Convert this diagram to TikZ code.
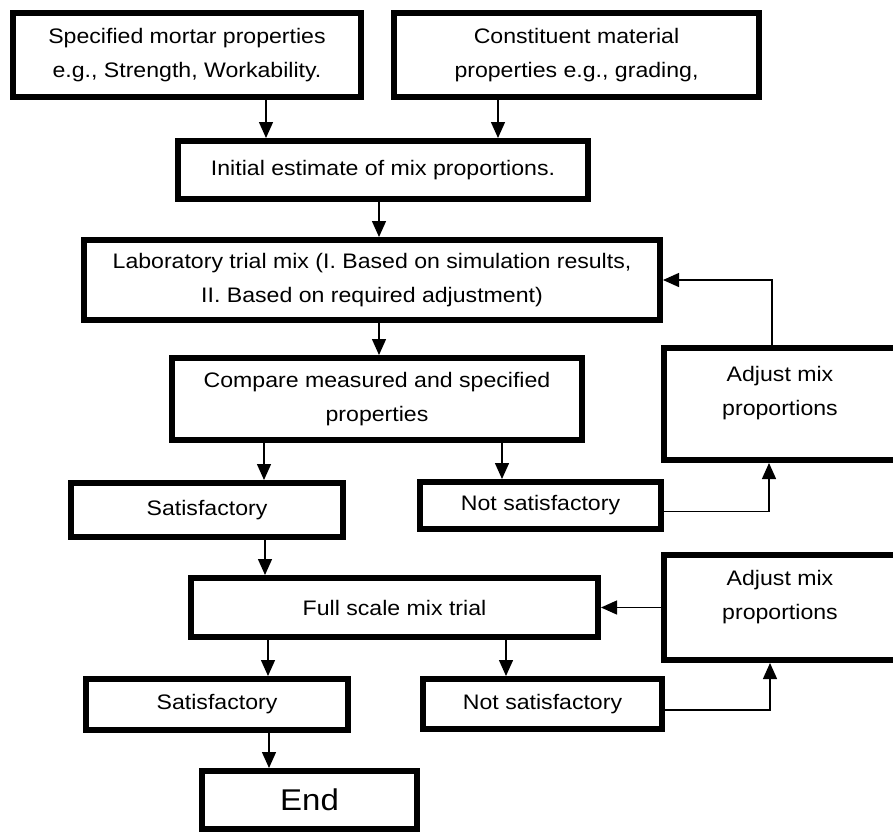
\documentclass[tikz,border=0pt]{standalone}
\usepackage{fontspec}
\setmainfont{Liberation Sans}[FakeStretch=1.1]
\usetikzlibrary{arrows.meta,positioning}

\begin{document}
\begin{tikzpicture}[x=1pt,y=-1pt,>={Triangle[length=16pt,width=14pt]},
  box/.style={draw,line width=6pt,align=center,inner sep=0pt,font=\fontsize{21}{34}\selectfont},
  txt/.style={align=center,inner sep=0pt,font=\fontsize{21}{34}\selectfont},
  link/.style={->,line width=1.4pt}]
  \useasboundingbox (0,0) rectangle (893,833);
  \node[box,minimum width=348pt,minimum height=84pt] (spec) at (187,55) {Specified mortar properties\\e.g., Strength, Workability.};
  \node[box,minimum width=365pt,minimum height=84pt] (const) at (576.5,55) {Constituent material\\properties e.g., grading,};
  \node[box,minimum width=410pt,minimum height=58pt] (init) at (383,170) {Initial estimate of mix proportions.};
  \node[box,minimum width=576pt,minimum height=80pt] (lab) at (372,280) {Laboratory trial mix (I. Based on simulation results,\\II. Based on required adjustment)};
  \node[box,minimum width=410pt,minimum height=82pt] (cmp) at (377,399) {Compare measured and specified\\properties};
  \node[box,minimum width=232pt,minimum height=112pt] (adj1) at (780,404) {};
  \node[txt] (adj1t) at (780,393.5) {Adjust mix\\proportions};
  \node[box,minimum width=272pt,minimum height=54pt] (sat1) at (207,510) {Satisfactory};
  \node[box,minimum width=241pt,minimum height=47pt] (not1) at (540.5,505.5) {Not satisfactory};
  \node[box,minimum width=407pt,minimum height=59pt] (full) at (394.5,607.5) {Full scale mix trial};
  \node[box,minimum width=232pt,minimum height=105pt] (adj2) at (780,607.5) {};
  \node[txt] (adj2t) at (780,597.5) {Adjust mix\\proportions};
  \node[box,minimum width=262pt,minimum height=51pt] (sat2) at (217,704.5) {Satisfactory};
  \node[box,minimum width=239pt,minimum height=50pt] (not2) at (542.5,704) {Not satisfactory};
  \node[box,minimum width=215pt,minimum height=58pt,font=\fontsize{30}{36}\selectfont] (end) at (309.5,800) {End};

  \draw[link] ([xshift=79pt]spec.south) -- ([xshift=79pt]spec.south |- init.north);
  \draw[link] ([xshift=-78.5pt]const.south) -- ([xshift=-78.5pt]const.south |- init.north);
  \draw[link] ([xshift=-4pt]init.south) -- ([xshift=-4pt]init.south |- lab.north);
  \draw[link] ([xshift=7pt]lab.south) -- ([xshift=7pt]lab.south |- cmp.north);
  \draw[link] ([xshift=-8pt]adj1.north) |- (lab.east);
  \draw[link] ([xshift=-113pt]cmp.south) -- ([xshift=-113pt]cmp.south |- sat1.north);
  \draw[link] ([xshift=125pt]cmp.south) -- ([xshift=125pt]cmp.south |- not1.north);
  \draw[link] ([yshift=-6pt]not1.east) -| ([xshift=-11pt]adj1.south);
  \draw[link] ([xshift=58pt]sat1.south) -- ([xshift=58pt]sat1.south |- full.north);
  \draw[link] (adj2.west) -- (full.east);
  \draw[link] ([xshift=-126.5pt]full.south) -- ([xshift=-126.5pt]full.south |- sat2.north);
  \draw[link] ([xshift=111.5pt]full.south) -- ([xshift=111.5pt]full.south |- not2.north);
  \draw[link] ([yshift=-6pt]not2.east) -| ([xshift=-10pt]adj2.south);
  \draw[link] ([xshift=52pt]sat2.south) -- ([xshift=52pt]sat2.south |- end.north);
\end{tikzpicture}
\end{document}
